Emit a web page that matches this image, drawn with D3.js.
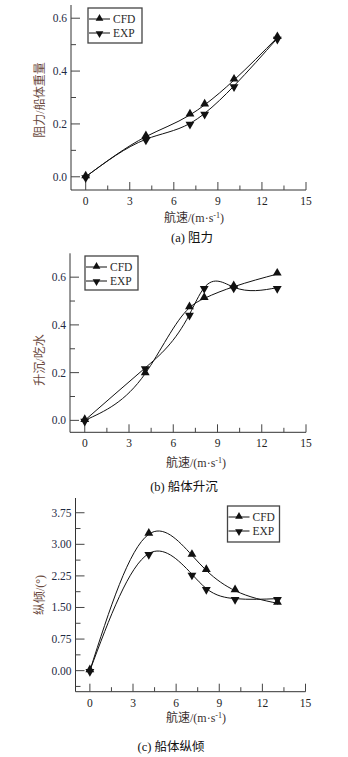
<!DOCTYPE html>
<html><head><meta charset="utf-8">
<script src="https://cdn.jsdelivr.net/npm/d3@7"></script>
<style>
html,body{margin:0;padding:0;background:#fff;}
svg{display:block;}
</style></head>
<body>
<svg id="c" width="348" height="757"></svg>
<script>
const speeds = [0, 4.1, 7.1, 8.1, 10.1, 13.05];
const seriesNames = ["CFD", "EXP"];
const xTicks = [0, 3, 6, 9, 12, 15];

const resistanceCFD = [0, 0.152, 0.234, 0.272, 0.366, 0.527];
const resistanceEXP = [0, 0.142, 0.202, 0.240, 0.344, 0.524];
const resistanceTicks = [0.0, 0.2, 0.4, 0.6];

const sinkageCFD = [0, 0.196, 0.472, 0.511, 0.560, 0.613];
const sinkageEXP = [0, 0.220, 0.444, 0.556, 0.558, 0.556];
const sinkageTicks = [0.0, 0.2, 0.4, 0.6];

const trimCFD = [0, 3.24, 2.74, 2.38, 1.90, 1.60];
const trimEXP = [0, 2.78, 2.29, 1.95, 1.71, 1.71];
const trimTicks = [0.00, 0.75, 1.50, 2.25, 3.00, 3.75];

const SERIF = "'Liberation Serif','Times New Roman','DejaVu Serif','Noto Sans CJK SC',serif";
const svg = d3.select("#c").attr("font-family", SERIF);

// custom d3 curve: natural cubic spline of y as a function of x, emitted as Bézier segments
function NaturalX(context){ this._context = context; }
NaturalX.prototype = {
  areaStart(){ this._line = 0; }, areaEnd(){ this._line = NaN; },
  lineStart(){ this._x = []; this._y = []; },
  point(x, y){ this._x.push(+x); this._y.push(+y); },
  lineEnd(){
    const X = this._x, Y = this._y, n = X.length, c = this._context;
    if (!n) return;
    c.moveTo(X[0], Y[0]);
    if (n === 2){ c.lineTo(X[1], Y[1]); return; }
    const h = [], d = [];
    for (let i = 0; i < n-1; i++){ h.push(X[i+1]-X[i]); d.push((Y[i+1]-Y[i])/h[i]); }
    // tridiagonal for second derivatives M (M0 = Mn-1 = 0)
    const m = n-2, a = [], b = [], cc = [], r = [];
    for (let i = 1; i <= m; i++){
      a.push(h[i-1]); b.push(2*(h[i-1]+h[i])); cc.push(h[i]); r.push(6*(d[i]-d[i-1]));
    }
    for (let i = 1; i < m; i++){
      const w = a[i]/b[i-1]; b[i] -= w*cc[i-1]; r[i] -= w*r[i-1];
    }
    const Mi = new Array(m);
    Mi[m-1] = r[m-1]/b[m-1];
    for (let i = m-2; i >= 0; i--) Mi[i] = (r[i]-cc[i]*Mi[i+1])/b[i];
    const M = [0, ...Mi, 0];
    const s = [];
    for (let i = 0; i < n-1; i++) s.push(d[i] - h[i]*(2*M[i]+M[i+1])/6);
    s.push(d[n-2] + h[n-2]*(M[n-2]+2*M[n-1])/6);
    for (let i = 0; i < n-1; i++){
      const t = h[i]/3;
      c.bezierCurveTo(X[i]+t, Y[i]+s[i]*t, X[i+1]-t, Y[i+1]-s[i+1]*t, X[i+1], Y[i+1]);
    }
  }
};
const curveNaturalX = ctx => new NaturalX(ctx);

const panels = [
  {x0:71, x1:306, yTop:5, yBot:190, yDom:[-0.05,0.65], ticks:resistanceTicks, minor:[0.1,0.3,0.5], fmt:d3.format(".1f"),
   cfd:resistanceCFD, exp:resistanceEXP, ylabel:"阻力/船体重量", ylabX:40, ylabY:100,
   xtitleY:222, xtitleX:194, caption:"(a) 阻力", capX:192, capY:242, leg:{x:88,y:8,w:54,h:35}},
  {x0:70, x1:306, yTop:253.3, yBot:432.3, yDom:[-0.05,0.70], ticks:sinkageTicks, minor:[0.1,0.3,0.5], fmt:d3.format(".1f"),
   cfd:sinkageCFD, exp:sinkageEXP, ylabel:"升沉/吃水", ylabX:40, ylabY:360,
   xtitleY:467, xtitleX:196, caption:"(b) 船体升沉", capX:184, capY:491, leg:{x:85,y:256,w:53,h:34}},
  {x0:75.5, x1:305.5, yTop:498, yBot:691.7, yDom:[-0.5,4.1], ticks:trimTicks, minor:[-0.375,0.375,1.125,1.875,2.625,3.375], fmt:d3.format(".2f"),
   cfd:trimCFD, exp:trimEXP, ylabel:"纵倾/(°)", ylabX:40, ylabY:595,
   xtitleY:722, xtitleX:196, caption:"(c) 船体纵倾", capX:171, capY:751, leg:{x:227.5,y:506,w:52,h:36}}
];

const xMinor = [1.5, 4.5, 7.5, 10.5, 13.5];
const tri = d3.symbol().type(d3.symbolTriangle);

function marker(g, x, y, down, size){
  g.append("path").attr("d", tri.size(size)())
    .attr("transform", `translate(${x},${y}) rotate(${down?180:0})`)
    .attr("fill", "#111");
}

panels.forEach(p => {
  const g = svg.append("g");
  const x = d3.scaleLinear().domain([-1, 15]).range([p.x0, p.x1]);
  const y = d3.scaleLinear().domain(p.yDom).range([p.yBot, p.yTop]);

  g.append("line").attr("x1", p.x0).attr("x2", p.x0).attr("y1", p.yTop).attr("y2", p.yBot).attr("stroke", "#333");
  g.append("line").attr("x1", p.x0).attr("x2", p.x1).attr("y1", p.yBot).attr("y2", p.yBot).attr("stroke", "#333");

  xTicks.forEach(t => {
    g.append("line").attr("x1", x(t)).attr("x2", x(t)).attr("y1", p.yBot).attr("y2", p.yBot-8).attr("stroke", "#444");
    g.append("text").attr("x", x(t)).attr("y", p.yBot+15).attr("text-anchor", "middle")
      .attr("font-size", 11.5).attr("fill", "#222").text(t);
  });
  xMinor.forEach(t => {
    g.append("line").attr("x1", x(t)).attr("x2", x(t)).attr("y1", p.yBot).attr("y2", p.yBot-4.5).attr("stroke", "#444");
  });
  p.ticks.forEach(t => {
    g.append("line").attr("x1", p.x0).attr("x2", p.x0+9).attr("y1", y(t)).attr("y2", y(t)).attr("stroke", "#444");
    g.append("text").attr("x", p.x0-4).attr("y", y(t)+4).attr("text-anchor", "end")
      .attr("font-size", 11.5).attr("fill", "#1f2a44").text(p.fmt(t));
  });
  p.minor.forEach(t => {
    g.append("line").attr("x1", p.x0).attr("x2", p.x0+5).attr("y1", y(t)).attr("y2", y(t)).attr("stroke", "#444");
  });

  const line = d3.line().x((d,i)=>x(speeds[i])).y(d=>y(d)).curve(curveNaturalX);
  [p.cfd, p.exp].forEach(s => {
    g.append("path").attr("d", line(s)).attr("fill", "none").attr("stroke", "#111").attr("stroke-width", 1);
  });
  p.cfd.forEach((v,i) => marker(g, x(speeds[i]), y(v)-1, false, 34));
  p.exp.forEach((v,i) => marker(g, x(speeds[i]), y(v)+1, true, 34));

  const L = p.leg;
  g.append("rect").attr("x", L.x).attr("y", L.y).attr("width", L.w).attr("height", L.h)
    .attr("fill", "#fff").attr("stroke", "#444").attr("stroke-width", 1.3);
  seriesNames.forEach((n, i) => {
    const ry = L.y + 11 + i*14;
    g.append("line").attr("x1", L.x+1).attr("x2", L.x+22).attr("y1", ry).attr("y2", ry).attr("stroke", "#111");
    marker(g, L.x+11.5, ry + (i===0?-0.5:0.5), i===1, 26);
    g.append("text").attr("x", L.x+25).attr("y", ry+4).attr("font-size", 11.5)
      .attr("fill", "#2a2a2a").text(n);
  });

  g.append("text").attr("transform", `translate(${p.ylabX},${p.ylabY}) rotate(-90)`)
    .attr("text-anchor", "middle").attr("dominant-baseline", "central")
    .attr("font-size", 12).attr("fill", "#6b4a40").text(p.ylabel);

  const xt = g.append("text").attr("x", p.xtitleX).attr("y", p.xtitleY).attr("text-anchor", "middle")
    .attr("font-size", 12).attr("fill", "#3a3030");
  xt.append("tspan").text("航速/(m·s");
  xt.append("tspan").attr("dy", -4).attr("font-size", 8).text("-1");
  xt.append("tspan").attr("dy", 4).text(")");

  g.append("text").attr("x", p.capX).attr("y", p.capY).attr("text-anchor", "middle")
    .attr("font-size", 12.5).attr("fill", "#111").text(p.caption);
});
</script>
</body></html>
